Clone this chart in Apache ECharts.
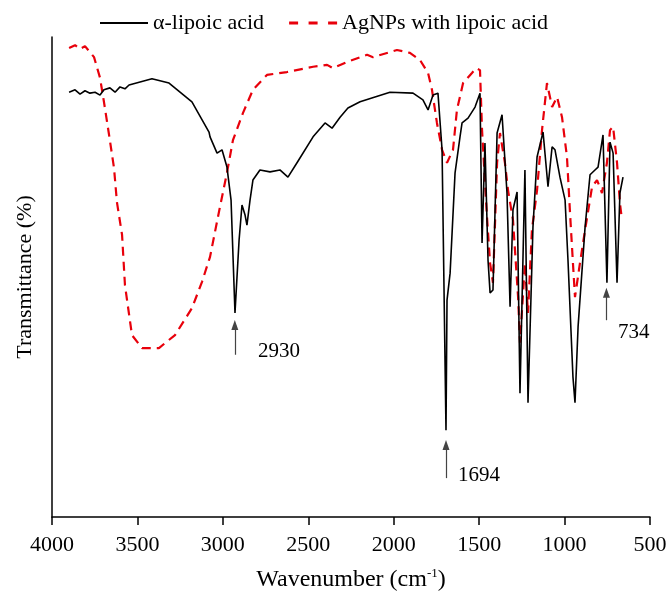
<!DOCTYPE html>
<html><head><meta charset="utf-8">
<script src="https://cdn.jsdelivr.net/npm/echarts@6/dist/echarts.min.js"></script>
<style>html,body{margin:0;padding:0;background:#fff}#c{width:666px;height:596px}</style>
</head><body><div id="c"></div>
<script>
// α-lipoic acid: [wavenumber, transmittance]
const lipoicWn = [3900,3865,3836,3807,3778,3748,3719,3696,3661,3631,3602,3573,3549,3415,3315,3181,3081,3075,3034,3005,2976,2952,2929,2905,2888,2870,2859,2841,2824,2783,2724,2666,2619,2566,2472,2402,2361,2314,2268,2197,2022,1887,1829,1799,1770,1741,1717,1694,1688,1670,1641,1612,1600,1565,1524,1495,1483,1466,1448,1436,1419,1395,1366,1337,1319,1302,1278,1261,1232,1214,1185,1161,1126,1097,1073,1056,1027,997,980,951,939,921,880,851,822,804,775,752,734,716,693,676,658];
const lipoicT = [88.5,89.0,88.1,88.8,88.3,88.5,87.9,89.0,89.4,88.5,89.6,89.2,90.0,91.3,90.4,86.5,80.2,79.2,75.8,76.5,72.9,66.0,42.5,57.7,65.0,62.9,60.8,66.0,70.2,72.3,71.9,72.3,70.8,73.8,79.2,82.1,81.0,83.3,85.2,86.5,88.5,88.3,86.9,84.8,87.9,88.3,76.5,18.1,45.2,50.8,71.7,79.2,82.1,83.1,85.4,88.3,57.1,77.9,53.5,46.7,47.3,80.0,83.8,67.5,43.8,64.0,67.7,25.8,72.3,23.8,60.4,75.0,80.2,68.8,77.1,76.5,70.8,66.0,53.5,29.2,23.8,39.6,60.4,71.3,72.3,72.9,79.6,48.8,78.1,75.8,48.8,67.5,70.8];
// AgNPs with lipoic acid
const agWn = [3900,3865,3836,3807,3754,3719,3696,3666,3637,3620,3590,3573,3532,3473,3374,3280,3181,3122,3075,3017,2976,2941,2882,2824,2742,2625,2472,2390,2355,2273,2156,2121,1981,1905,1846,1799,1776,1747,1717,1688,1653,1630,1594,1542,1518,1495,1483,1454,1436,1419,1395,1378,1349,1331,1302,1272,1261,1232,1214,1191,1161,1132,1103,1073,1044,1015,986,968,951,939,910,880,839,810,781,752,734,716,693,676,664];
const agT = [97.7,98.3,97.5,98.1,95.8,91.5,86.5,79.6,72.7,65.6,58.8,48.3,37.9,35.2,35.2,37.9,43.5,49.0,54.2,64.6,71.7,78.5,84.2,89.0,92.1,92.7,93.8,94.2,93.5,94.8,96.3,95.8,97.3,96.7,95.2,92.5,89.0,82.1,76.5,73.8,76.5,84.8,90.4,92.5,93.5,93.1,80.6,62.5,52.9,48.8,73.8,80.0,73.8,68.1,61.9,45.8,36.3,52.9,42.5,59.8,68.1,80.6,90.4,85.4,87.5,83.3,75.0,63.3,52.9,45.8,52.9,59.8,68.8,70.2,67.5,73.8,80.6,81.3,73.8,65.4,61.9];
// annotations: [wavenumber, arrowBottom, arrowTip]
const peakLabels = ['2930','1694','734'];
const arrowPos = [[2930,33.8,40.0],[1694,8.1,15.0],[755,41.0,46.7]];
const labelPos = [[2794,34.4],[1624,8.75],[687,38.5]];

const FONT = 'Liberation Serif';
const zip = (a,b)=>a.map((v,i)=>[v,b[i]]);

const chart = echarts.init(document.getElementById('c'), null, {renderer:'canvas'});
chart.setOption({
  animation:false,
  backgroundColor:'#fff',
  textStyle:{fontFamily:FONT,color:'#000'},
  legend:{
    top:7, left:95, itemGap:25, itemWidth:48, itemHeight:14,
    textStyle:{fontFamily:FONT,fontSize:22,color:'#000'},
    data:[
      {name:'α-lipoic acid', icon:'path://M0,6 L48,6 L48,8 L0,8 Z', itemStyle:{color:'#000'}},
      {name:'AgNPs with lipoic acid', icon:'path://M0,5.5 L9,5.5 L9,8.5 L0,8.5 Z M19.5,5.5 L28.5,5.5 L28.5,8.5 L19.5,8.5 Z M39,5.5 L48,5.5 L48,8.5 L39,8.5 Z', itemStyle:{color:'#e8000b'}}
    ]
  },
  grid:{left:52,right:16,top:37,bottom:79,containLabel:false,outerBoundsMode:'none'},
  xAxis:{
    type:'value', inverse:true, min:500, max:4000, interval:500,
    name:'Wavenumber (cm{sup|-1})', nameLocation:'middle', nameGap:50,
    nameTextStyle:{fontFamily:FONT,fontSize:24,color:'#000',rich:{sup:{fontFamily:FONT,fontSize:13,verticalAlign:'top',padding:[0,0,12,0]}}},
    axisLine:{lineStyle:{color:'#000',width:1.5}},
    axisTick:{show:true,length:8,lineStyle:{color:'#000',width:1.5}},
    axisLabel:{fontFamily:FONT,fontSize:22,color:'#000',margin:17,formatter:v=>String(v)},
    splitLine:{show:false}
  },
  yAxis:{
    type:'value', min:0, max:100,
    name:'Transmittance (%)', nameLocation:'middle', nameGap:16,
    nameTextStyle:{fontFamily:FONT,fontSize:22,color:'#000'},
    axisLine:{show:true,lineStyle:{color:'#000',width:1.5}},
    axisTick:{show:false}, axisLabel:{show:false}, splitLine:{show:false}
  },
  series:[
    {name:'AgNPs with lipoic acid', type:'line', data:zip(agWn,agT), symbol:'none',
     lineStyle:{color:'#e8000b',width:2.2,type:[9,6]}, itemStyle:{color:'#e8000b'}, z:2},
    {name:'α-lipoic acid', type:'line', data:zip(lipoicWn,lipoicT), symbol:'none',
     lineStyle:{color:'#000',width:1.6}, itemStyle:{color:'#000'}, z:3,
     markLine:{silent:true, symbol:['none','triangle'], symbolSize:[7,10],
       lineStyle:{color:'#444',width:1.2,type:'solid'}, label:{show:false},
       data:arrowPos.map(a=>[{coord:[a[0],a[1]]},{coord:[a[0],a[2]],itemStyle:{color:'#000'}}])},
     markPoint:{silent:true, symbol:'circle', symbolSize:0,
       label:{show:true,position:'right',distance:0,fontFamily:FONT,fontSize:21,color:'#000'},
       data:labelPos.map((p,i)=>({coord:p,value:peakLabels[i],label:{formatter:peakLabels[i]}}))}
    }
  ]
});
</script></body></html>
